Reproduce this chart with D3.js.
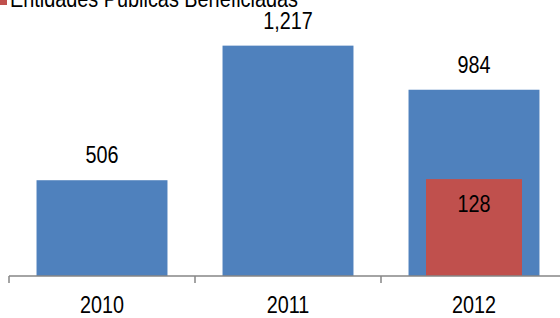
<!DOCTYPE html>
<html>
<head>
<meta charset="utf-8">
<script src="https://cdn.jsdelivr.net/npm/d3@7"></script>
<style>
  html, body { margin: 0; padding: 0; background: #fff; }
  svg { display: block; font-family: "Liberation Sans", Arial, sans-serif; }
</style>
</head>
<body>
<svg id="chart" width="560" height="318"></svg>
<script>
// chart data
const years = ['2010', '2011', '2012'];
const beneficiarios = [506, 1217, 984];
const entidades = [null, null, 128];
const legendLabel = 'Entidades Publicas Beneficiadas';

const svg = d3.select('#chart');
const baseY = 276;
const squeeze = 0.86; // narrow font look

const x = d3.scaleBand()
  .domain(years)
  .range([9, 567])
  .paddingInner(0.296)
  .paddingOuter(0.148);

// primary and secondary axis
const y = d3.scaleLinear().domain([0, 1400]).range([baseY, 11]);
const y2 = d3.scaleLinear().domain([0, 350]).range([baseY, 11]);

const blue = '#4f81bd';
const red = '#c0504d';

function label(g, tx, ty, str) {
  g.append('text')
    .attr('transform', `translate(${tx},${ty}) scale(${squeeze},1)`)
    .attr('text-anchor', 'middle')
    .attr('font-size', 23)
    .attr('fill', '#000')
    .text(str);
}

// blue bars
svg.selectAll('.bar')
  .data(years)
  .enter()
  .append('rect')
  .attr('class', 'bar')
  .attr('x', d => x(d))
  .attr('y', (d, i) => y(beneficiarios[i]))
  .attr('width', x.bandwidth())
  .attr('height', (d, i) => baseY - y(beneficiarios[i]))
  .attr('fill', blue);

// red bars (secondary axis, narrower)
const redW = x.bandwidth() * 0.733;
years.forEach((d, i) => {
  if (entidades[i] == null) return;
  svg.append('rect')
    .attr('x', x(d) + (x.bandwidth() - redW) / 2)
    .attr('y', y2(entidades[i]))
    .attr('width', redW)
    .attr('height', baseY - y2(entidades[i]))
    .attr('fill', red);
});

// value labels
const fmt = d3.format(',');
years.forEach((d, i) => {
  const cx = x(d) + x.bandwidth() / 2;
  label(svg, cx, y(beneficiarios[i]) - 17, fmt(beneficiarios[i]));
  if (entidades[i] != null) label(svg, cx, y2(entidades[i]) + 33, fmt(entidades[i]));
});

// x axis
const step = x.step();
const axis = svg.append('g').attr('stroke', '#868686').attr('stroke-width', 1.5);
axis.append('line')
  .attr('x1', 9).attr('x2', 560)
  .attr('y1', baseY).attr('y2', baseY);
d3.range(years.length + 1).forEach(i => {
  axis.append('line')
    .attr('x1', 9 + i * step).attr('x2', 9 + i * step)
    .attr('y1', baseY).attr('y2', baseY + 7);
});

years.forEach(d => label(svg, x(d) + x.bandwidth() / 2, 313, d));

// legend (cut at top, as in the original)
svg.append('rect')
  .attr('x', 0).attr('y', -3)
  .attr('width', 7).attr('height', 8)
  .attr('fill', red);
svg.append('text')
  .attr('x', 10).attr('y', 7)
  .attr('font-size', 23)
  .attr('textLength', 288)
  .attr('lengthAdjust', 'spacingAndGlyphs')
  .attr('fill', '#000')
  .text(legendLabel);
</script>
</body>
</html>
